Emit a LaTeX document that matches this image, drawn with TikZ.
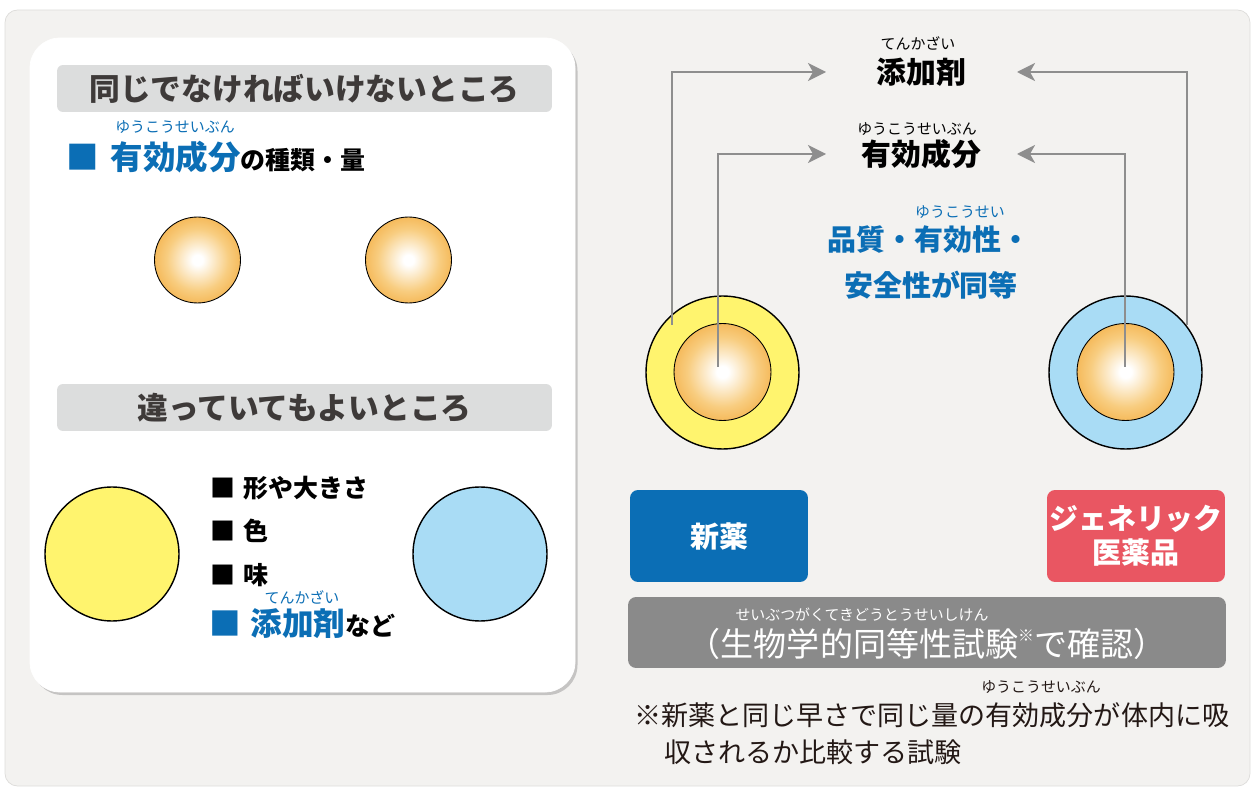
\documentclass[tikz,border=0pt]{standalone}
\usepackage{fontspec}
\setmainfont{Noto Sans CJK JP}
\usetikzlibrary{arrows.meta,shadows}

\definecolor{panelbg}{HTML}{F3F2F0}
\definecolor{panelline}{HTML}{DDDCDA}
\definecolor{hdrgrey}{HTML}{DCDDDD}
\definecolor{hdrtext}{HTML}{3E3A39}
\definecolor{medblue}{HTML}{0B6EB5}
\definecolor{ringyellow}{HTML}{FFF46E}
\definecolor{ringblue}{HTML}{A9DCF5}
\definecolor{orbmid}{HTML}{F8CD80}
\definecolor{orbedge}{HTML}{F2A532}
\definecolor{genred}{HTML}{E95662}
\definecolor{bargrey}{HTML}{8A8A8A}
\definecolor{arrowgrey}{HTML}{8E8E8E}
\definecolor{notetext}{HTML}{231815}

\pgfdeclareradialshading{orbshade}{\pgfpoint{0cm}{0cm}}{color(0bp)=(white); color(3bp)=(white); color(18bp)=(orbmid); color(33bp)=(orbedge); color(50bp)=(orbedge)}
\newcommand{\fsz}[1]{\fontsize{#1pt}{#1pt}\selectfont}

\begin{document}
\begin{tikzpicture}[x=0.02cm, y=-0.02cm]
	\tikzstyle{every node} = [inner sep=0pt, outer sep=0pt]
	\tikzstyle{hdrbar} = [rectangle, rounded corners=0.12cm, fill=hdrgrey, text=hdrtext, minimum width=9.9cm, minimum height=0.94cm, font=\bfseries\fsz{17.5}]
	\tikzstyle{ruby} = [font=\fsz{8.5}]
	\tikzstyle{orb} = [circle, draw=black, line width=0.5pt, shading=orbshade, minimum size=1.72cm]
	\tikzstyle{ring} = [circle, draw=black, line width=0.8pt, minimum size=3.06cm]
	\tikzstyle{bigpill} = [circle, draw=black, line width=0.8pt, minimum size=2.68cm]
	\tikzstyle{label} = [font=\bfseries\fsz{17}, minimum width=3.82cm]
	\tikzstyle{drugbox} = [rectangle, rounded corners=0.16cm, minimum width=3.56cm, minimum height=1.84cm, text=white, font=\bfseries\fsz{16.5}, align=center]
	\tikzstyle{flow} = [draw=arrowgrey, line width=1.6pt, -{Stealth[length=0.36cm, width=0.36cm, inset=0.1cm]}]
	\useasboundingbox (0,0) rectangle (1252,787);
	% background panel and card
	\draw[panelline, fill=panelbg, rounded corners=0.25cm] (5,10) rectangle (1250,786);
	\draw[white, fill=white, rounded corners=0.6cm, drop shadow={shadow xshift=0.05cm, shadow yshift=-0.06cm, opacity=0.4}] (30,38) rectangle (575,692);
	% left card
	\node[hdrbar] (same) at (304.5,88.5) {同じでなければいけないところ};
	\node[ruby, text=medblue] (rubyA) at (175,127) {ゆうこうせいぶん};
	\node[anchor=west, font=\bfseries] (ingr) at (66,157) {\textcolor{medblue}{\fsz{18.5}■\hspace{0.24cm}有効成分}\fsz{14.2}の種類・量};
	\node[orb] (orbA) at (197.5,260) {};
	\node[orb] (orbB) at (408.5,260) {};
	\node[hdrbar] (diff) at (304.5,407.5) {違っていてもよいところ};
	\node[bigpill, fill=ringyellow] (pillY) at (112,554) {};
	\node[bigpill, fill=ringblue] (pillB) at (480,554) {};
	\node[anchor=west, font=\bfseries\fsz{14.2}] (shape) at (210,488) {■\hspace{0.06cm} 形や大きさ};
	\node[anchor=west, font=\bfseries\fsz{14.2}] (colour) at (210,531) {■\hspace{0.06cm} 色};
	\node[anchor=west, font=\bfseries\fsz{14.2}] (taste) at (210,575) {■\hspace{0.06cm} 味};
	\node[ruby, text=medblue] (rubyB) at (302,597) {てんかざい};
	\node[anchor=west, font=\bfseries] (addv) at (209,624) {\textcolor{medblue}{\fsz{18}■\hspace{0.2cm}添加剤}\fsz{14.2}など};
	% right side
	\node[ruby] (rubyC) at (918,43) {てんかざい};
	\node[label] (tenka) at (921.5,72) {添加剤};
	\node[ruby] (rubyD) at (917,129) {ゆうこうせいぶん};
	\node[label] (yuko) at (921.5,154) {有効成分};
	\node[ruby, text=medblue] (rubyE) at (960,212) {ゆうこうせい};
	\node[font=\bfseries\fsz{16.5}, text=medblue] (equalA) at (929,240) {品質・有効性・};
	\node[font=\bfseries\fsz{16.5}, text=medblue] (equalB) at (931,285) {安全性が同等};
	\node[ring, fill=ringyellow] (newRing) at (722.5,372.5) {};
	\node[orb, minimum size=1.94cm] (newCore) at (722.5,372) {};
	\node[ring, fill=ringblue] (genRing) at (1125.5,372.5) {};
	\node[orb, minimum size=1.94cm] (genCore) at (1125.5,372) {};
	\coordinate (newOut) at (672,325);
	\coordinate (newIn) at (718,367);
	\coordinate (genOut) at (1187,325);
	\coordinate (genIn) at (1125,367);
	\draw[flow] (newOut) |- (tenka.west);
	\draw[flow] (newIn) |- (yuko.west);
	\draw[flow] (genOut) |- (tenka.east);
	\draw[flow] (genIn) |- (yuko.east);
	\node[drugbox, fill=medblue] (newDrug) at (719,536) {新薬};
	\node[drugbox, fill=genred] (genDrug) at (1136,536) {ジェネリック\\[3pt]医薬品};
	\node[rectangle, rounded corners=0.16cm, fill=bargrey, minimum width=11.96cm, minimum height=1.42cm] (bioBar) at (927,632.5) {};
	\node[ruby, text=white] (rubyF) at (862,615) {せいぶつがくてきどうとうせいしけん};
	\node[text=white, font=\fsz{18.8}] (bioText) at (927,644) {（生物学的同等性試験\raisebox{0.45em}{\fsz{9}※}で確認）};
	\node[ruby, text=notetext] (rubyG) at (1041,687) {ゆうこうせいぶん};
	\node[anchor=west, text=notetext, font=\fsz{15.4}] (noteA) at (634,715) {※新薬と同じ早さで同じ量の有効成分が体内に吸};
	\node[anchor=west, text=notetext, font=\fsz{15.4}] (noteB) at (664,752) {収されるか比較する試験};
\end{tikzpicture}
\end{document}
